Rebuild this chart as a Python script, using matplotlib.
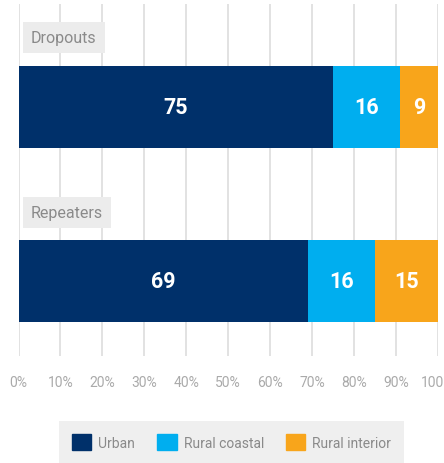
import matplotlib
matplotlib.use('Agg')
import matplotlib.pyplot as plt
from matplotlib.patches import Patch

groups = ['Dropouts', 'Repeaters']
series = ['Urban', 'Rural coastal', 'Rural interior']
urban = [75, 69]
rural_coastal = [16, 16]
rural_interior = [9, 15]
ticks = [0, 10, 20, 30, 40, 50, 60, 70, 80, 90, 100]
colors = ['#00306a', '#00aeef', '#f8a51b']

plt.rcParams['font.family'] = ['Roboto', 'DejaVu Sans']

fig = plt.figure(figsize=(4.44, 4.64), dpi=100)
ax = fig.add_axes([18.5 / 444, 1 - 357 / 464, (438 - 18.5) / 444, 352 / 464])

left = [0, 0]
for vals, col in zip([urban, rural_coastal, rural_interior], colors):
    ax.barh(range(len(groups)), vals, left=left, height=0.47, color=col, zorder=3)
    for i, v in enumerate(vals):
        ax.text(left[i] + v / 2, i, str(v), ha='center', va='center', color='white',
                fontsize=15.5, fontweight='bold', zorder=4)
    left = [a + b for a, b in zip(left, vals)]

for i, g in enumerate(groups):
    ax.text(3, i - 0.398, g, ha='left', va='center', color='#8a8a8a', fontsize=11.5,
            zorder=4, bbox=dict(boxstyle='square,pad=0.5', fc='#ececec', ec='none'))

ax.set_xlim(0, 100)
ax.set_ylim(1.427, -0.59)
ax.set_xticks(ticks)
ax.set_xticklabels([f'{t}%' for t in ticks], color='#aaaaaa', fontsize=10)
ax.tick_params(axis='x', length=0, pad=14)
ax.set_yticks([])
ax.grid(axis='x', color='#dddddd', linewidth=1.2, zorder=0)
for s in ax.spines.values():
    s.set_visible(False)

handles = [Patch(color=c, label=s) for c, s in zip(colors, series)]
leg = fig.legend(handles=handles, loc='center', bbox_to_anchor=(231.5 / 444, 1 - 443 / 464),
                 ncol=3, frameon=True, fancybox=False, fontsize=10, handlelength=1.4,
                 handleheight=1.4, handletextpad=0.5, columnspacing=1.6,
                 borderpad=0.9, labelcolor='#8a8a8a')
leg.get_frame().set_facecolor('#ececec')
leg.get_frame().set_edgecolor('none')

fig.savefig('out.png', dpi=100)
